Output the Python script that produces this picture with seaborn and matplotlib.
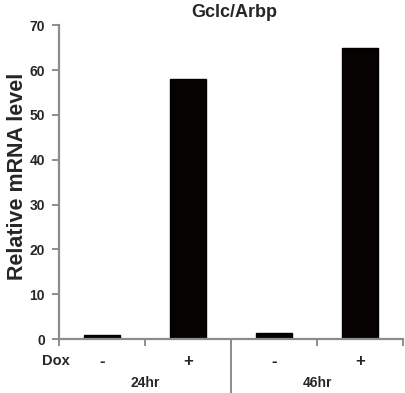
#!/usr/bin/env python3
# coding=utf-8
from matplotlib import pyplot as plt
from matplotlib.lines import Line2D
import matplotlib.transforms as mtransforms
import pandas as pd
import seaborn as sns

# data
samples = ["24hr -", "24hr +", "46hr -", "46hr +"]
dox = ["-", "+", "-", "+"]
groups = ["24hr", "46hr"]
values = [1.0, 58.0, 1.3, 65.0]
y_ticks = [0, 10, 20, 30, 40, 50, 60, 70]


def plot_graph(fig_location: str = "out.png"):
    df = pd.DataFrame({"sample": samples, "value": values})

    sns.set_theme(style="white")
    plt.rcParams["font.family"] = ["Liberation Sans", "DejaVu Sans"]
    plt.rcParams["font.weight"] = "bold"

    fig = plt.figure(figsize=(4.06, 3.93), dpi=100)
    ax = fig.add_axes([0.145, 0.137, 0.848, 0.799])
    sns.barplot(data=df, x="sample", y="value", color="black", width=0.42,
                saturation=1, ax=ax, errorbar=None)
    for p in ax.patches:
        p.set_edgecolor("black")
        p.set_facecolor("#060202")

    spine_col = "#8c8c8c"
    sns.despine(ax=ax)
    for s in ("left", "bottom"):
        ax.spines[s].set_color(spine_col)
        ax.spines[s].set_linewidth(1.6)

    ax.set_ylim(0, 70)
    ax.set_yticks(y_ticks)
    ax.set_yticklabels([str(t) for t in y_ticks], fontsize=10, fontweight="bold")
    ax.tick_params(axis="y", left=True, direction="out", length=5, width=1.4,
                   color=spine_col, pad=5)

    ax.set_xlim(-0.5, 3.5)
    ax.set_xticks([-0.5, 0.5, 1.5, 2.5, 3.5])
    ax.set_xticklabels([])
    ax.set_xticks(range(len(dox)), minor=True)
    ax.set_xticklabels(dox, minor=True, fontsize=12, fontweight="bold")
    ax.tick_params(axis="x", which="major", bottom=True, direction="out",
                   length=5, width=1.4, color=spine_col)
    ax.tick_params(axis="x", which="minor", bottom=False, length=0, pad=11)
    ax.set_xlabel(None)
    ax.set_ylabel(None)
    fig.text(0.043, 0.552, "Relative mRNA level", rotation=90, ha="center",
             va="center", fontsize=15.5, fontweight="bold")
    ax.set_title("Gclc/Arbp", fontsize=13, fontweight="bold", pad=6, x=0.51)

    trans = mtransforms.blended_transform_factory(ax.transData, ax.transAxes)
    ax.text(-0.37, -0.071, "Dox", transform=trans, ha="right", va="center",
            fontsize=10.5, fontweight="bold")
    for i, g in enumerate(groups):
        ax.text(2 * i + 0.5, -0.14, g, transform=trans, ha="center", va="center",
                fontsize=10, fontweight="bold")
    ax.add_line(Line2D([1.5, 1.5], [0, -0.175], transform=trans, color=spine_col,
                       linewidth=1.4, clip_on=False))

    fig.savefig(fig_location, dpi=100)


if __name__ == "__main__":
    plot_graph("out.png")
